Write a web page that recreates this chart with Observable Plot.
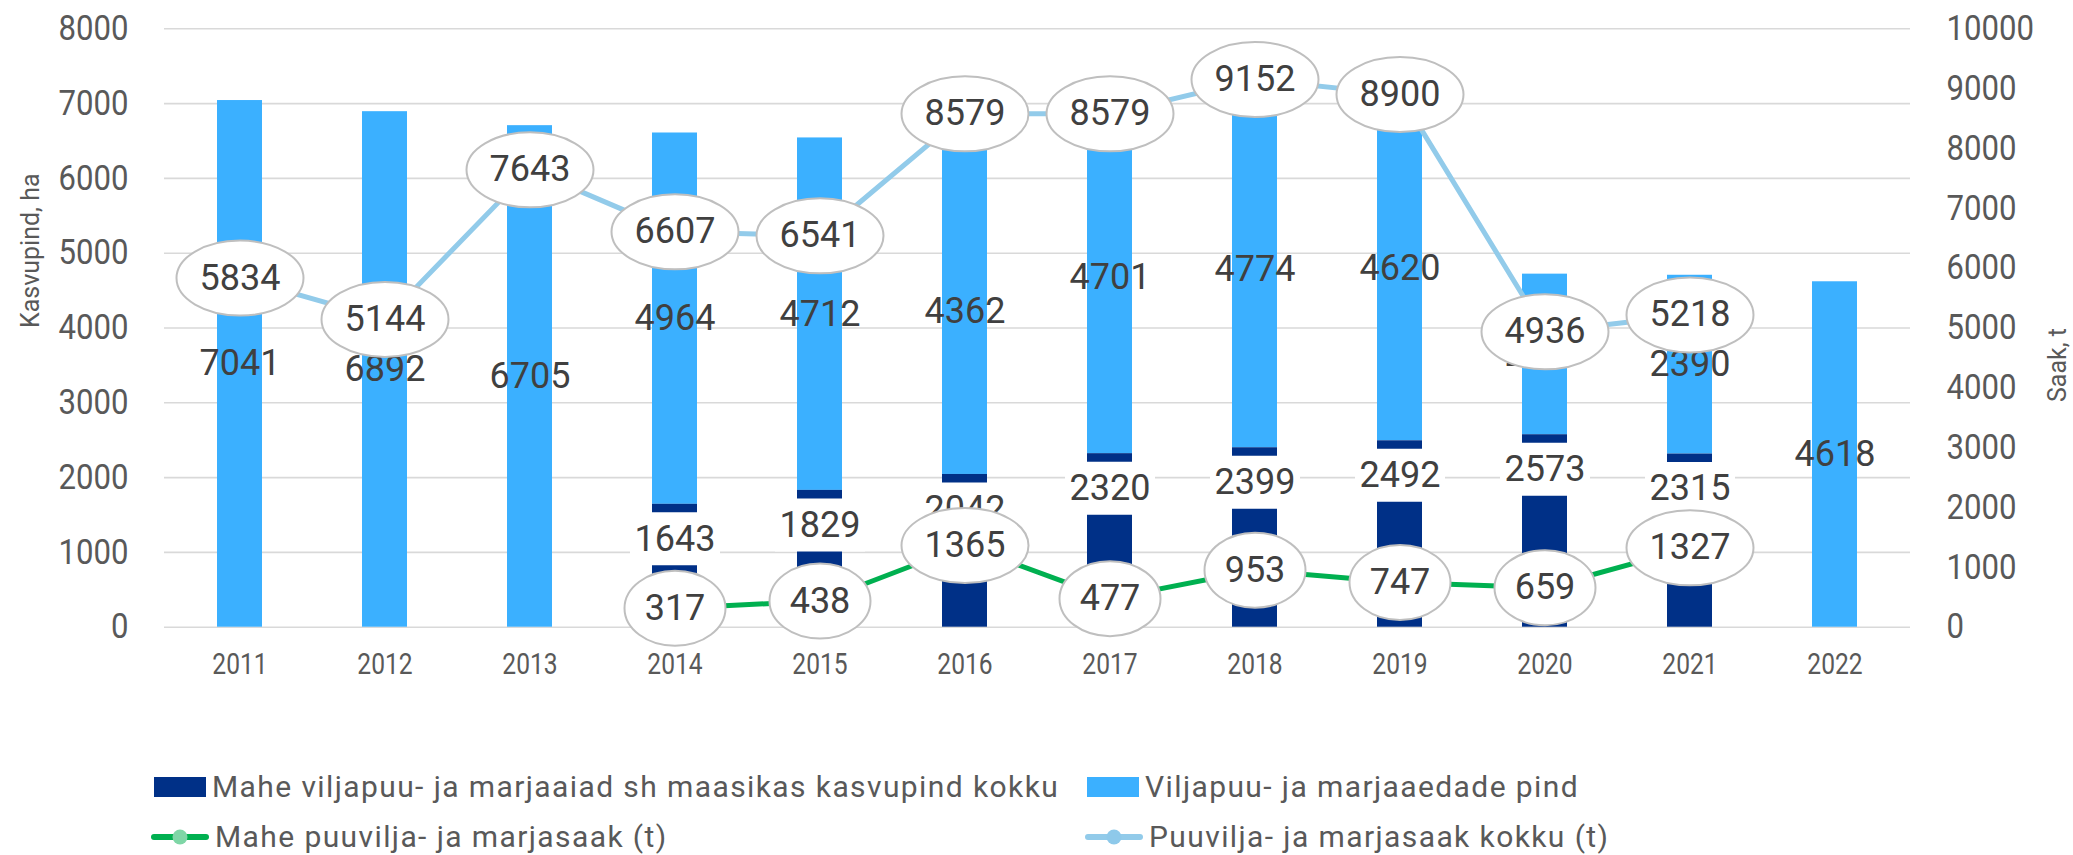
<!DOCTYPE html>
<html>
<head>
<meta charset="utf-8">
<script src="https://cdn.jsdelivr.net/npm/d3@7"></script>
<script src="https://cdn.jsdelivr.net/npm/@observablehq/plot@0.6"></script>
<style>
  html, body { margin: 0; padding: 0; background: #fff; }
  #wrap { position: relative; width: 2073px; height: 855px; font-family: Roboto, sans-serif; }
  #chart svg { display: block; }
  #legend { position: absolute; left: 0; top: 700px; width: 2073px; height: 155px; }
  .item { position: absolute; display: flex; align-items: center; height: 30px; margin-top: -15px;
          font-size: 30px; color: #595959; letter-spacing: 1.4px; white-space: nowrap; }
  .item svg { display: block; margin-right: 6px; }
</style>
</head>
<body>
<div id="wrap"><div id="chart"></div><div id="legend"></div></div>
<script>
// ---- data ----
const years = [2011, 2012, 2013, 2014, 2015, 2016, 2017, 2018, 2019, 2020, 2021, 2022];
const organicArea = [null, null, null, 1643, 1829, 2042, 2320, 2399, 2492, 2573, 2315, null];   // Mahe ... kasvupind kokku (ha)
const otherArea   = [7041, 6892, 6705, 4964, 4712, 4362, 4701, 4774, 4620, 2147, 2390, 4618];    // Viljapuu- ja marjaaedade pind (ha, stacked part)
const organicYield = [null, null, null, 317, 438, 1365, 477, 953, 747, 659, 1327, null];        // Mahe puuvilja- ja marjasaak (t)
const totalYield   = [5834, 5144, 7643, 6607, 6541, 8579, 8579, 9152, 8900, 4936, 5218, null];   // Puuvilja- ja marjasaak kokku (t)
const leftTicks  = [0, 1000, 2000, 3000, 4000, 5000, 6000, 7000, 8000];
const rightTicks = [0, 1000, 2000, 3000, 4000, 5000, 6000, 7000, 8000, 9000, 10000];
const leftTitle = "Kasvupind, ha";
const rightTitle = "Saak, t";
const legendLabels = [
  "Mahe viljapuu- ja marjaaiad sh maasikas kasvupind kokku",
  "Viljapuu- ja marjaaedade pind",
  "Mahe puuvilja- ja marjasaak (t)",
  "Puuvilja- ja marjasaak kokku (t)"
];

// ---- colours ----
const C_DARK = "#003087", C_LIGHT = "#3BB0FF", C_GREEN = "#00B050", C_LINE = "#92CBEA";
const C_TEXT = "#404040", C_AXIS = "#595959", C_GRID = "#D9D9D9";

const K = 8000 / 10000; // right-axis units -> left-axis units

const data = years.map((year, i) => ({
  year, org: organicArea[i], other: otherArea[i], oy: organicYield[i], ty: totalYield[i]
}));
const orgData = data.filter(d => d.org != null);
const points = [
  ...data.filter(d => d.ty != null).map(d => ({year: d.year, v: d.ty})),
  ...data.filter(d => d.oy != null).map(d => ({year: d.year, v: d.oy}))
];

// ellipse callout symbol: rx from r, fixed ry
const ellipse = {
  draw(ctx, size) {
    const rx = Math.sqrt(size / Math.PI), ry = 37.5, k = 0.5522847498;
    ctx.moveTo(rx, 0);
    ctx.bezierCurveTo(rx, k * ry, k * rx, ry, 0, ry);
    ctx.bezierCurveTo(-k * rx, ry, -rx, k * ry, -rx, 0);
    ctx.bezierCurveTo(-rx, -k * ry, -k * rx, -ry, 0, -ry);
    ctx.bezierCurveTo(k * rx, -ry, rx, -k * ry, rx, 0);
    ctx.closePath();
  }
};
// white label box just inside the top end of the organic bar
const labelBox = { draw(ctx) { ctx.rect(-45, 8, 90, 53); } };

const plot = Plot.plot({
  width: 2073,
  height: 700,
  marginTop: 28.3,
  marginBottom: 73.3,
  marginLeft: 164,
  marginRight: 163,
  style: {fontFamily: "Roboto, sans-serif", background: "white", overflow: "visible"},
  x: {type: "band", domain: years, paddingInner: 0.689, paddingOuter: 0.3445},
  y: {domain: [0, 8000]},
  marks: [
    Plot.gridY(leftTicks, {stroke: C_GRID, strokeOpacity: 1, strokeWidth: 1.6}),
    Plot.barY(data, {x: "year", y1: d => d.org ?? 0, y2: d => (d.org ?? 0) + d.other, fill: C_LIGHT}),
    Plot.barY(orgData, {x: "year", y1: 0, y2: "org", fill: C_DARK}),
    Plot.dot(orgData, {x: "year", y: "org", symbol: labelBox, r: 1, fill: "white", stroke: null}),
    Plot.text(orgData, {x: "year", y: "org", text: d => String(d.org), dy: 34.7, fontSize: 36, fill: C_TEXT, ariaLabel: "data label"}),
    Plot.text(data, {x: "year", y: d => (d.org ?? 0) + d.other / 2, text: d => String(d.other), fontSize: 36, fill: C_TEXT, ariaLabel: "data label"}),
    Plot.lineY(data.filter(d => d.ty != null), {x: "year", y: d => d.ty * K, stroke: C_LINE, strokeWidth: 5}),
    Plot.lineY(data.filter(d => d.oy != null), {x: "year", y: d => d.oy * K, stroke: C_GREEN, strokeWidth: 5}),
    Plot.dot(points.filter(d => d.v >= 1000), {x: "year", y: d => d.v * K, symbol: ellipse, r: 63.5, fill: "white", stroke: "#BFBFBF", strokeWidth: 2}),
    Plot.dot(points.filter(d => d.v < 1000), {x: "year", y: d => d.v * K, symbol: ellipse, r: 50.5, fill: "white", stroke: "#BFBFBF", strokeWidth: 2}),
    Plot.text(points, {x: "year", y: d => d.v * K, text: d => String(d.v), fontSize: 36, fill: C_TEXT, ariaLabel: "data label"}),
    Plot.axisY(leftTicks, {anchor: "left", tickSize: 0, tickPadding: 36, fontSize: 35, color: C_AXIS, label: null, tickFormat: d => String(d)}),
    Plot.axisY(rightTicks.map(v => v * K), {anchor: "right", tickSize: 0, tickPadding: 36, fontSize: 35, color: C_AXIS, label: null, tickFormat: d => String(Math.round(d / K))}),
    Plot.axisX({anchor: "bottom", tickSize: 0, tickPadding: 25, fontSize: 30, color: C_AXIS, label: null, tickFormat: d => String(d)}),
    Plot.text([leftTitle], {frameAnchor: "left", dx: -134, rotate: -90, fontSize: 25, fill: C_AXIS}),
    Plot.text([rightTitle], {frameAnchor: "right", dx: 147, rotate: -90, fontSize: 25, fill: C_AXIS})
  ]
});
document.getElementById("chart").appendChild(plot);

// condensed look (Roboto Condensed-like): horizontal squeeze about each label's anchor
function squeeze(sel, s) {
  plot.querySelectorAll(sel).forEach(t => {
    const tr = t.getAttribute("transform") || "";
    const x = t.hasAttribute("x") ? +t.getAttribute("x") : 0;
    t.setAttribute("transform", `${tr} translate(${x},0) scale(${s},1) translate(${-x},0)`);
  });
}
squeeze('g[aria-label="y-axis tick label"] text', 0.89);
squeeze('g[aria-label="x-axis tick label"] text', 0.82);
squeeze('g[aria-label="data label"] text', 0.87);

// ---- legend ----
const legend = d3.select("#legend");
const items = [
  {label: legendLabels[0], kind: "rect", color: C_DARK, x: 154, y: 86.5},
  {label: legendLabels[1], kind: "rect", color: C_LIGHT, x: 1087, y: 86.5},
  {label: legendLabels[2], kind: "line", color: C_GREEN, marker: "#7FD6A6", x: 151, y: 136.5},
  {label: legendLabels[3], kind: "line", color: C_LINE, marker: "#8EC9EA", x: 1085, y: 136.5}
];
for (const it of items) {
  const div = legend.append("div").attr("class", "item").style("left", it.x + "px").style("top", it.y + "px");
  if (it.kind === "rect") {
    const s = div.append("svg").attr("width", 52).attr("height", 20);
    s.append("rect").attr("width", 52).attr("height", 20).attr("fill", it.color);
  } else {
    const s = div.append("svg").attr("width", 58).attr("height", 20);
    s.append("line").attr("x1", 3).attr("x2", 55).attr("y1", 10).attr("y2", 10)
      .attr("stroke", it.color).attr("stroke-width", 6).attr("stroke-linecap", "round");
    s.append("circle").attr("cx", 29).attr("cy", 10).attr("r", 7.5).attr("fill", it.marker);
  }
  div.append("span").text(it.label);
}
</script>
</body>
</html>
